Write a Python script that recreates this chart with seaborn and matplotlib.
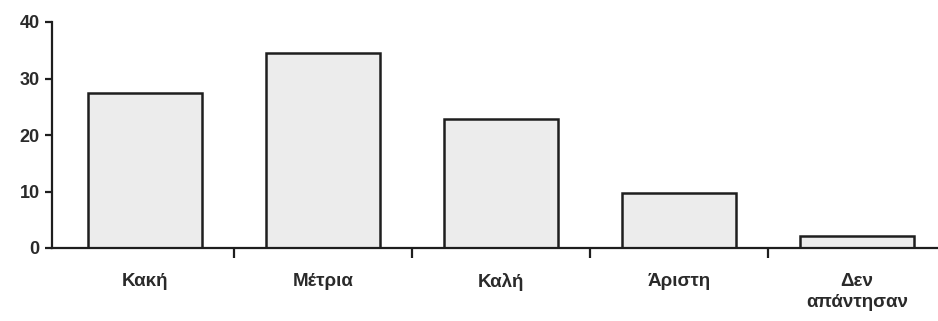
import matplotlib
matplotlib.use("Agg")
import matplotlib.pyplot as plt
import seaborn as sns
import pandas as pd
from matplotlib.ticker import FixedLocator, NullFormatter

categories = ["Κακή", "Μέτρια", "Καλή", "Άριστη", "Δεν\nαπάντησαν"]
values = [27.4, 34.5, 22.8, 9.8, 2.1]
yticks = [0, 10, 20, 30, 40]

sns.set_theme(style="white")
plt.rcParams["font.family"] = ["Liberation Sans", "DejaVu Sans"]

df = pd.DataFrame({"cat": categories, "val": values})

fig = plt.figure(figsize=(9.38, 3.21), dpi=100)
ax = fig.add_axes([52/938, (321-248)/321, 894/938, (248-22)/321])

sns.barplot(data=df, x="cat", y="val", ax=ax, color="#ececec", saturation=1,
            edgecolor="#1e1e1e", linewidth=1.8, width=0.64)

ax.set_xlim(-0.52, 4.5)
ax.set_ylim(0, 40)
ax.set_yticks(yticks)
ax.set_xlabel("")
ax.set_ylabel("")
for s in ["top", "right"]:
    ax.spines[s].set_visible(False)
for s in ["left", "bottom"]:
    ax.spines[s].set_color("#1e1e1e")
    ax.spines[s].set_linewidth(1.6)

ax.tick_params(axis="y", which="major", left=True, length=5, width=1.6, color="#1e1e1e",
               labelsize=13, pad=4)
ax.tick_params(axis="x", which="major", bottom=False, length=0, labelsize=13.5, pad=18)
ax.xaxis.set_minor_locator(FixedLocator([0.5, 1.5, 2.5, 3.5]))
ax.xaxis.set_minor_formatter(NullFormatter())
ax.tick_params(axis="x", which="minor", bottom=True, length=7, width=1.6, color="#1e1e1e")

for lbl in ax.get_xticklabels() + ax.get_yticklabels():
    lbl.set_fontweight("bold")
    lbl.set_color("#2a2a2a")
for lbl in ax.get_xticklabels():
    lbl.set_linespacing(1.3)

fig.savefig("out.png", dpi=100)
